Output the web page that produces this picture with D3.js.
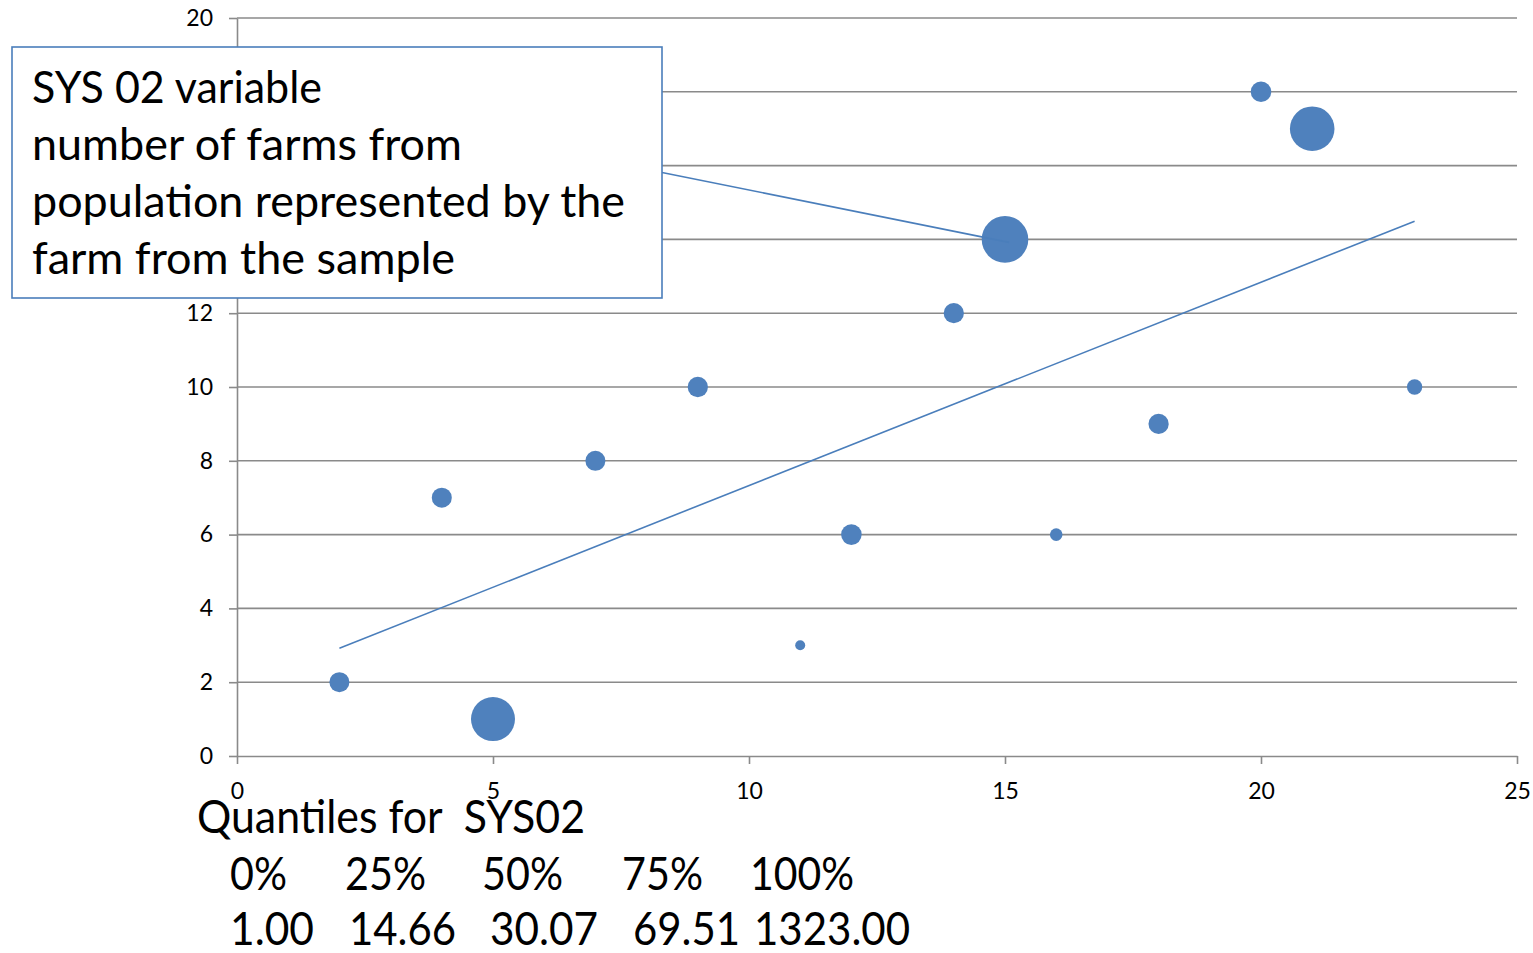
<!DOCTYPE html>
<html>
<head>
<meta charset="utf-8">
<script src="https://cdn.jsdelivr.net/npm/d3@7"></script>
<style>
  html, body { margin: 0; padding: 0; background: #ffffff; }
  svg { display: block; }
  text { font-family: Lato, "Open Sans", "Noto Sans", sans-serif; fill: #000; }
</style>
</head>
<body>
<svg id="chart" width="1533" height="953"></svg>
<script>
// Sample farms: position on the grid and number of farms each one represents
const farmX = [2, 4, 5, 7, 9, 11, 12, 14, 15, 16, 18, 20, 21, 23];
const farmY = [2, 7, 1, 8, 10, 3, 6, 12, 14, 6, 9, 18, 17, 10];
const farmWeight = [244, 244, 1180, 244, 250, 61, 258, 250, 1323, 97, 250, 258, 1212, 144];

const xTicks = [0, 5, 10, 15, 20, 25];
const yTicks = [0, 2, 4, 6, 8, 10, 12, 14, 16, 18, 20];

const noteLines = [
  "SYS 02 variable",
  "number of farms from",
  "population represented by the",
  "farm from the sample"
];

const quantileTitle = "Quantiles for  SYS02";
const quantileLevels = ["0%", "25%", "50%", "75%", "100%"];
const quantileValues = ["1.00", "14.66", "30.07", "69.51", "1323.00"];

const svg = d3.select("#chart");
const plot = { left: 237, right: 1517, top: 18, bottom: 756 };

const x = d3.scaleLinear().domain([0, 25]).range([plot.left, plot.right]);
const y = d3.scaleLinear().domain([0, 20]).range([plot.bottom, plot.top]);
const r = d3.scaleSqrt().domain([0, d3.max(farmWeight)]).range([0, 23.3]);

const axisGrey = "#8a8a8a";
const blue = "#4f81bd";

// horizontal gridlines
svg.append("g")
  .selectAll("line")
  .data(yTicks.filter(t => t > 0))
  .join("line")
  .attr("x1", plot.left).attr("x2", plot.right)
  .attr("y1", d => y(d)).attr("y2", d => y(d))
  .attr("stroke", axisGrey).attr("stroke-width", 1.6);

// y axis
const yAxis = svg.append("g")
  .attr("transform", `translate(${plot.left},0)`)
  .call(d3.axisLeft(y).tickValues(yTicks).tickSize(8).tickPadding(16).tickSizeOuter(0));
yAxis.select(".domain").attr("stroke", axisGrey).attr("stroke-width", 1.6);
yAxis.selectAll(".tick line").attr("stroke", axisGrey).attr("stroke-width", 1.6);
yAxis.selectAll(".tick text")
  .style("font-family", "Lato, 'Open Sans', sans-serif")
  .attr("font-size", 23).attr("fill", "#000");

// x axis
const xAxis = svg.append("g")
  .attr("transform", `translate(0,${plot.bottom})`)
  .call(d3.axisBottom(x).tickValues(xTicks).tickSize(8).tickPadding(19).tickSizeOuter(0));
xAxis.select(".domain").attr("stroke", axisGrey).attr("stroke-width", 1.6);
xAxis.selectAll(".tick line").attr("stroke", axisGrey).attr("stroke-width", 1.6);
xAxis.selectAll(".tick text")
  .style("font-family", "Lato, 'Open Sans', sans-serif")
  .attr("font-size", 23).attr("fill", "#000");

// bubbles
const farms = farmX.map((fx, i) => ({ x: fx, y: farmY[i], w: farmWeight[i] }));
svg.append("g")
  .selectAll("circle")
  .data(farms)
  .join("circle")
  .attr("cx", d => x(d.x))
  .attr("cy", d => y(d.y))
  .attr("r", d => r(d.w))
  .attr("fill", blue);

// linear least-squares trend line over the sample points
const mx = d3.mean(farmX), my = d3.mean(farmY);
const sxy = d3.sum(farmX, (v, i) => (v - mx) * (farmY[i] - my));
const sxx = d3.sum(farmX, v => (v - mx) * (v - mx));
const slope = sxy / sxx;
const intercept = my - slope * mx;
const [xMin, xMax] = d3.extent(farmX);
svg.append("line")
  .attr("x1", x(xMin)).attr("y1", y(intercept + slope * xMin))
  .attr("x2", x(xMax)).attr("y2", y(intercept + slope * xMax))
  .attr("stroke", "#4a7ebb").attr("stroke-width", 1.6);

// callout pointing at the largest bubble
const target = farms[d3.maxIndex(farmWeight)];
const box = { x: 12, y: 47, w: 650, h: 251 };
svg.append("line")
  .attr("x1", box.x + box.w).attr("y1", 172.5)
  .attr("x2", x(target.x) + 4).attr("y2", y(target.y) + 3)
  .attr("stroke", "#4a7ebb").attr("stroke-width", 1.6);

svg.append("rect")
  .attr("x", box.x).attr("y", box.y)
  .attr("width", box.w).attr("height", box.h)
  .attr("fill", "#fff")
  .attr("stroke", "#4a7ebb").attr("stroke-width", 1.6);

const noteWidths = [290, 430, 593, 423];
svg.append("g")
  .selectAll("text")
  .data(noteLines)
  .join("text")
  .attr("x", 32)
  .attr("y", (d, i) => 103 + i * 57)
  .attr("font-size", 44)
  .attr("textLength", (d, i) => noteWidths[i])
  .attr("lengthAdjust", "spacingAndGlyphs")
  .text(d => d);

// quantile summary below the chart
svg.append("text")
  .attr("x", 197).attr("y", 833)
  .attr("font-size", 46)
  .style("white-space", "pre")
  .attr("xml:space", "preserve")
  .attr("textLength", 388)
  .attr("lengthAdjust", "spacingAndGlyphs")
  .text(quantileTitle);

const levelX = [230, 345, 482, 622, 750];
const levelW = [57, 81, 81, 81, 104];
svg.append("g")
  .selectAll("text")
  .data(quantileLevels)
  .join("text")
  .attr("x", (d, i) => levelX[i])
  .attr("y", 890)
  .attr("font-size", 46)
  .attr("textLength", (d, i) => levelW[i])
  .attr("lengthAdjust", "spacingAndGlyphs")
  .text(d => d);

const valueX = [230, 349, 490, 633, 754];
const valueW = [84, 107, 108, 107, 156];
svg.append("g")
  .selectAll("text")
  .data(quantileValues)
  .join("text")
  .attr("x", (d, i) => valueX[i])
  .attr("y", 945)
  .attr("font-size", 46)
  .attr("textLength", (d, i) => valueW[i])
  .attr("lengthAdjust", "spacingAndGlyphs")
  .text(d => d);
</script>
</body>
</html>
